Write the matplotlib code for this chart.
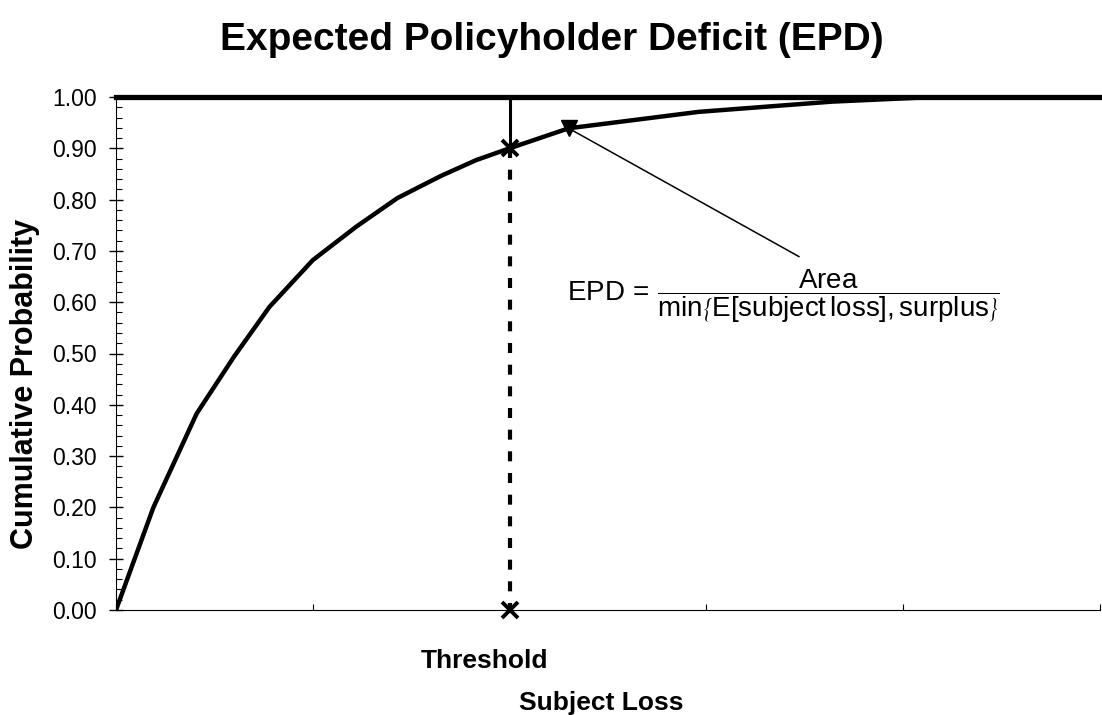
import matplotlib.pyplot as plt
from matplotlib.ticker import MultipleLocator

plt.rcParams['font.family'] = ['Liberation Sans', 'DejaVu Sans']
plt.rcParams['mathtext.fontset'] = 'custom'
plt.rcParams['mathtext.rm'] = 'Liberation Sans'
plt.rcParams['mathtext.it'] = 'Liberation Sans'

# values (x in axis units 0..5)
loss_x = [0.0, 0.19, 0.41, 0.60, 0.78, 1.00, 1.22, 1.43, 1.65, 1.83, 2.0, 2.30, 2.96, 3.64, 4.1, 5.0]
cum_prob = [0.0, 0.20, 0.383, 0.494, 0.591, 0.682, 0.747, 0.803, 0.846, 0.877, 0.90, 0.939,
            0.971, 0.991, 0.999, 1.0]
threshold = 2.0
threshold_prob = 0.90
marker_pt = (2.30, 0.939)
label_pt = (3.47, 0.689)
y_ticks = [0.0, 0.1, 0.2, 0.3, 0.4, 0.5, 0.6, 0.7, 0.8, 0.9, 1.0]

fig = plt.figure(figsize=(11.02, 7.15), dpi=100)
ax = fig.add_axes([116 / 1102, 105 / 715, 984 / 1102, 513 / 715])

ax.plot(loss_x, cum_prob, color='black', lw=3.2, solid_joinstyle='round')
ax.plot([0, 5], [1.0, 1.0], color='black', lw=3.8, clip_on=False)
ax.plot([threshold, threshold], [1.0, threshold_prob], color='black', lw=2.2)
ax.plot([threshold, threshold], [threshold_prob, 0.0], color='black', lw=3,
        linestyle=(0, (2.4, 2.8)))
ax.plot([threshold, threshold], [threshold_prob, 0.0], linestyle='none', marker='x',
        color='black', markersize=11, markeredgewidth=2.8, clip_on=False)
ax.plot([marker_pt[0]], [marker_pt[1]], marker='v', color='black', markersize=11)
ax.plot([marker_pt[0], label_pt[0]], [marker_pt[1], label_pt[1]], color='black', lw=1.1)

ax.text(2.29, 0.612,
        r'EPD$\,=\,\dfrac{\mathrm{Area}}{\min\left\{E\left[\mathrm{subject\,loss}\right],\mathrm{surplus}\right\}}$',
        fontsize=20, va='center', ha='left')

ax.set_xlim(0, 5)
ax.set_ylim(0, 1)
ax.set_xticks([0, 1, 2, 3, 4, 5])
ax.set_xticklabels([])
ax.set_yticks(y_ticks)
ax.set_yticklabels([f'{v:.2f}' for v in y_ticks], fontsize=16.5)
ax.yaxis.set_minor_locator(MultipleLocator(0.02))
ax.tick_params(axis='y', which='major', direction='inout', length=10, width=1, pad=9)
ax.tick_params(axis='y', which='minor', direction='in', length=4, width=0.8)
ax.tick_params(axis='x', which='major', direction='in', length=4, width=0.8)
ax.spines['top'].set_visible(False)
ax.spines['right'].set_visible(False)

ax.text(1.87, -0.1, 'Threshold', fontsize=19, fontweight='bold', ha='center', va='center')
fig.text(601 / 1102, 1 - 703 / 715, 'Subject Loss', fontsize=19, fontweight='bold',
         ha='center', va='center')
fig.text(25 / 1102, 1 - 384 / 715, 'Cumulative Probability', fontsize=22, fontweight='bold',
         ha='center', va='center', rotation=90)
fig.text(552 / 1102, 1 - 40 / 715, 'Expected Policyholder Deficit (EPD)', fontsize=28,
         fontweight='bold', ha='center', va='center')

fig.savefig('out.png', dpi=100)
